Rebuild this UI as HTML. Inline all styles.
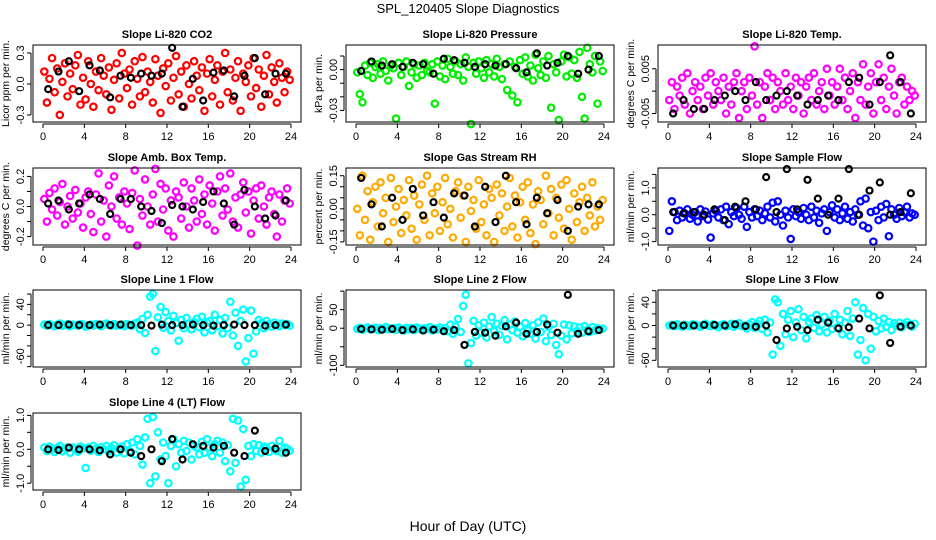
<!DOCTYPE html>
<html><head><meta charset="utf-8"><style>
html,body{margin:0;padding:0;background:#fff;}
svg{display:block;font-family:"Liberation Sans",sans-serif;}
</style></head><body>
<svg id="chart" width="936" height="540" viewBox="0 0 936 540">
<text x="468" y="13" text-anchor="middle" font-size="13">SPL_120405  Slope Diagnostics</text>
<text x="468" y="531" text-anchor="middle" font-size="14">Hour of Day (UTC)</text>
</svg>
<script>
const xTicks=[0,4,8,12,16,20,24];
const xTickLabels=["0","4","8","12","16","20","24"];

const co2Vals=[0.12,-0.18,0.05,0.25,-0.08,0.15,-0.3,0.02,0.2,-0.12,0.1,-0.05,0.18,0.28,-0.2,0.06,-0.15,0.22,0.0,-0.22,0.12,-0.06,0.25,0.08,-0.1,0.16,-0.25,0.04,0.2,-0.14,0.3,0.1,-0.04,0.14,-0.2,0.22,0.05,-0.12,0.26,-0.08,0.12,0.02,-0.18,0.24,0.08,-0.28,0.15,-0.02,0.2,-0.16,0.06,0.27,-0.1,0.12,-0.22,0.18,0.0,-0.14,0.22,0.08,-0.06,0.16,-0.26,0.1,0.24,-0.12,0.04,0.18,-0.2,0.12,0.3,-0.08,0.14,-0.16,0.06,0.22,-0.26,0.1,0.02,0.18,-0.12,0.25,-0.04,0.14,-0.22,0.08,0.28,-0.1,0.16,0.02,-0.18,0.2,0.06,-0.08,0.12,0.04];
const co2Black=[-0.05,0.12,0.22,-0.07,0.18,0.13,-0.13,0.08,0.06,0.1,0.08,0.1,0.35,-0.22,0.05,-0.16,0.11,0.13,-0.12,0.08,0.25,-0.1,0.1,0.1];
const presVals=[-0.002,-0.018,-0.024,0.003,-0.004,0.005,-0.006,0.002,0.004,-0.003,0.006,-0.001,-0.008,0.003,0.001,-0.036,0.005,-0.004,0.002,0.006,-0.012,-0.002,0.004,-0.006,0.003,-0.004,0.005,-0.001,-0.002,0.004,-0.025,0.006,-0.005,0.003,-0.007,0.008,0.002,-0.003,0.006,-0.004,0.004,-0.008,0.009,0.002,-0.04,0.005,-0.003,0.006,0.001,-0.006,0.007,-0.002,0.004,-0.005,0.008,0.002,-0.007,0.004,-0.015,0.006,-0.019,0.002,-0.024,0.007,-0.003,0.009,-0.005,0.003,-0.008,0.011,0.001,-0.004,0.006,-0.006,0.01,-0.028,0.004,-0.002,-0.037,0.006,0.011,-0.005,0.009,-0.003,0.007,-0.006,0.013,-0.02,-0.036,0.016,0.004,-0.002,0.01,-0.025,0.006,-0.001];
const presBlack=[-0.001,0.006,0.003,0.004,0.002,0.005,0.004,-0.003,0.008,0.007,0.005,0.002,0.004,0.003,0.004,0.001,-0.002,0.012,0.003,0.005,0.010,-0.003,0.000,0.010];
const tempVals=[-0.002,0.002,-0.004,0.001,-0.001,0.003,-0.003,0.004,-0.005,0,0.002,-0.002,0.001,-0.004,0.003,-0.001,0.004,-0.003,0.002,0,-0.002,0.003,-0.005,0.001,-0.003,0.002,0.004,-0.006,0,0.002,-0.004,0.003,-0.001,0.01,-0.003,0.002,-0.006,0.001,0.004,-0.002,0.003,-0.004,0.002,0,-0.003,0.004,-0.002,0.001,-0.004,0.003,-0.001,0.002,-0.005,0.001,0.003,-0.002,0.004,-0.003,0,0.002,-0.004,0.005,-0.001,0.002,-0.003,0.001,0.005,-0.002,0.003,-0.004,0,0.004,-0.006,0.002,-0.002,0.006,-0.003,0.001,0.004,-0.005,0.002,0.006,-0.002,0.003,-0.004,0.001,0.005,-0.001,-0.005,0.002,0.003,-0.003,0.001,-0.002,0.0,-0.001];
const tempBlack=[-0.005,-0.002,-0.004,-0.004,-0.002,-0.001,0,-0.002,0.002,-0.002,-0.001,0,-0.001,-0.003,-0.002,-0.001,-0.002,0.002,0.003,-0.003,0.002,0.008,0.002,-0.005];
const ambVals=[0.05,-0.1,0.09,-0.02,0.12,-0.06,0.03,0.15,-0.12,0.0,0.07,-0.08,0.11,-0.04,0.02,-0.14,0.06,0.1,-0.05,-0.17,0.08,0.22,-0.1,0.04,-0.2,0.14,0.0,0.2,-0.08,0.06,-0.12,0.1,0.02,-0.15,0.09,0.24,-0.26,0.05,-0.06,0.18,0.0,-0.12,0.08,0.25,-0.1,0.15,-0.02,0.12,-0.16,0.04,-0.2,0.1,0.06,-0.08,0.16,0.0,-0.14,0.12,0.04,-0.1,0.18,-0.05,0.08,-0.12,0.14,0.02,-0.16,0.1,0.2,-0.06,0.12,-0.02,0.22,-0.1,0.06,-0.14,0.08,0.16,-0.04,0.1,-0.18,0.04,0.12,-0.08,0.14,0.0,-0.12,0.06,0.1,-0.05,-0.2,0.08,-0.1,0.04,0.12,0.02];
const ambBlack=[0.02,0.04,-0.02,0.02,0.08,0.05,-0.05,0.05,0.05,0,-0.03,-0.11,0.01,0.0,-0.02,0.03,0.1,0.02,-0.12,0.11,0.0,-0.08,-0.06,0.04];
const rhVals=[0.0,-0.12,0.15,-0.05,0.08,-0.14,0.03,0.1,-0.08,0.12,-0.02,0.05,-0.15,0.14,-0.06,0.01,0.09,-0.11,0.04,-0.03,0.13,-0.09,0.06,-0.14,0.02,0.11,-0.05,0.15,-0.12,0.07,-0.02,0.1,-0.1,0.03,0.14,-0.07,0.0,-0.13,0.08,0.12,-0.04,0.06,-0.15,0.1,-0.01,0.04,-0.09,0.13,-0.06,0.02,-0.12,0.09,0.05,-0.15,0.11,-0.03,0.07,-0.1,0.01,0.14,-0.08,0.06,-0.13,0.03,0.1,-0.05,0.12,-0.11,0.02,-0.16,0.08,0.04,-0.07,0.15,-0.02,0.09,-0.12,0.05,-0.04,0.11,-0.09,0.13,0.0,-0.14,0.07,-0.06,0.03,0.1,-0.1,0.05,-0.03,0.12,-0.08,0.01,-0.05,0.04];
const rhBlack=[0.14,0.02,-0.08,0.05,-0.05,0.09,-0.03,0.03,-0.04,0.07,0.06,-0.08,0.1,-0.06,0.15,0.03,-0.07,0.05,-0.02,0.04,-0.1,0.01,0.02,0.02];
const sampVals=[-0.6,0.5,0.1,-0.2,0.15,-0.1,0.05,0.2,-0.15,0.0,0.1,-0.25,0.2,-0.05,0.12,-0.18,-0.85,0.05,0.15,-0.1,0.2,-0.2,0.3,-0.35,0.1,-0.05,0.25,0.0,-0.15,0.3,-0.45,0.1,-0.1,0.2,-0.05,0.15,-0.2,0.05,0.3,-0.1,0.45,-0.25,0.5,0.0,-0.4,0.15,-0.1,-0.9,0.2,-0.05,0.1,-0.15,0.25,0.0,-0.2,0.3,-0.1,0.15,-0.3,0.05,0.2,-0.6,0.1,0.35,-0.1,0.2,-0.2,0.05,0.3,-0.15,0.1,-0.25,0.2,0.0,0.5,-0.4,0.6,-0.5,0.1,-1.0,0.15,-0.2,0.3,-0.1,0.4,-0.8,0.2,0.0,-0.15,0.25,-0.05,0.1,0.3,-0.1,0.05,0.0];
const sampBlack=[0.1,0.05,0.1,0.0,0.2,-0.2,0.3,0.5,0.2,1.4,0.1,1.7,0.2,1.3,0.6,0.0,0.6,1.7,0.0,0.9,1.2,0.0,0.1,0.8];
const l1Vals=[1,-1,2,0,-2,1,3,-1,0,2,-2,1,0,-1,2,1,-3,0,1,-1,2,0,-2,1,3,0,-1,2,-1,0,1,-2,2,0,-1,3,5,-8,12,-15,20,55,60,-50,15,35,-5,25,8,-10,18,4,-30,10,-6,14,2,-8,6,12,-4,16,-14,5,8,-10,20,-2,10,-16,14,-6,45,-20,24,-40,8,30,-70,-25,28,-55,-12,10,4,-6,8,2,-3,5,1,-2,3,0,2,-1];
const l1Black=[0,0,1,0,0,1,0,1,0,0,-1,1,0,0,1,0,-1,0,1,0,0,-1,0,1];
const l2Vals=[-2,1,-4,0,2,-3,-1,1,-5,0,-2,3,-3,-1,0,-4,2,-2,-6,1,-3,0,-5,2,-1,-4,0,-2,3,-6,-1,-3,2,-5,0,-8,10,-15,5,25,-10,60,90,-95,-40,20,-20,8,-12,15,-25,5,30,-8,12,-18,6,22,-30,10,-5,18,-12,4,-22,14,-6,-15,8,-28,16,-10,26,-35,4,-18,12,-45,-70,-20,10,-30,8,-14,5,-8,2,-12,6,-4,-10,3,-6,0,-3,-1];
const l2Black=[-2,-3,-4,-2,-5,-3,-6,-4,-8,-5,-45,-10,-12,-20,5,15,-15,-10,10,-12,90,-15,-8,-5];
const l3Vals=[0,1,-1,2,0,-2,1,0,-1,2,1,0,-2,1,3,0,-1,2,0,-3,1,2,-1,0,3,-2,1,4,-1,0,-5,2,6,-4,3,8,-6,10,-12,5,-50,45,40,-35,20,-15,10,25,-20,5,28,-8,15,-22,6,12,-4,18,-10,2,15,-12,8,-6,20,-3,10,-15,5,25,-18,12,40,-50,-25,30,-60,20,-40,15,-10,8,-5,12,-2,6,-8,4,0,5,-3,2,6,1,-2,3];
const l3Black=[0,0,0,1,1,0,2,-1,-2,0,-25,-5,-2,-8,10,5,-5,-3,12,-5,52,-30,-2,0];
const l4Vals=[0.05,-0.05,0.08,0,-0.08,0.04,0.1,-0.06,0.02,0.06,-0.1,0.05,0,-0.07,0.08,0.03,-0.55,0.05,-0.04,0.1,0.02,-0.08,0.06,0,0.1,-0.06,0.04,0.12,-0.1,0.02,0.08,-0.12,0.15,-0.05,0.2,-0.15,0.3,0.1,-0.45,0.35,0.9,-1.0,0.95,-0.8,0.5,-0.3,0.2,-0.2,-1.0,0.1,0.3,-0.5,0.15,-0.1,0.25,-0.05,0.2,-0.3,0.1,0.05,-0.15,0.22,-0.1,0.3,0.05,-0.2,0.15,0.25,-0.1,0.2,-0.35,0.12,-0.65,0.9,-0.4,0.85,-1.1,0.6,-0.9,0.1,-0.2,0.15,-0.05,0.12,-0.1,0.08,0.05,-0.08,0.1,0,-0.05,0.25,-0.1,0.05,0.02,-0.04];
const l4Black=[0,-0.02,0.05,0,0,-0.03,-0.15,0,-0.1,-0.2,0,-0.35,0.3,-0.3,0.15,0.1,0.05,0.1,-0.1,-0.2,0.55,-0.05,0.02,-0.1];

const panels=[
 {id:"co2",title:"Slope Li-820 CO2",ylab:"Licor ppm per min.",col:0,row:0,ymin:-0.368,ymax:0.377,ticks:[-0.3,0,0.3],labs:["-0.3","0.0","0.3"],color:"#ff0000",vals:co2Vals,black:co2Black},
 {id:"pressure",title:"Slope Li-820 Pressure",ylab:"kPa per min.",col:1,row:0,ymin:-0.0385,ymax:0.0181,ticks:[-0.03,-0.02,-0.01,0,0.01],labs:["-0.03","","","0.00",""],color:"#00ee00",vals:presVals,black:presBlack},
 {id:"temp",title:"Slope Li-820 Temp.",ylab:"degrees C per min.",col:2,row:0,ymin:-0.0069,ymax:0.0103,ticks:[-0.005,0,0.005],labs:["-0.005","","0.005"],color:"#ff00ff",vals:tempVals,black:tempBlack},
 {id:"amb-temp",title:"Slope Amb. Box Temp.",ylab:"degrees C per min.",col:0,row:1,ymin:-0.256,ymax:0.256,ticks:[-0.2,-0.1,0,0.1,0.2],labs:["-0.2","","0.0","","0.2"],color:"#ff00ff",vals:ambVals,black:ambBlack},
 {id:"rh",title:"Slope Gas Stream RH",ylab:"percent per min.",col:1,row:1,ymin:-0.164,ymax:0.185,ticks:[-0.15,-0.1,-0.05,0,0.05,0.1,0.15],labs:["-0.15","","","0.00","","","0.15"],color:"#ffaa00",vals:rhVals,black:rhBlack},
 {id:"sample-flow",title:"Slope Sample Flow",ylab:"ml/min per min.",col:2,row:1,ymin:-1.126,ymax:1.739,ticks:[-1,-0.5,0,0.5,1,1.5],labs:["-1.0","","0.0","","1.0",""],color:"#0000ff",vals:sampVals,black:sampBlack},
 {id:"line1",title:"Slope Line 1 Flow",ylab:"ml/min per min.",col:0,row:2,ymin:-80.7,ymax:67.7,ticks:[-80,-60,-40,-20,0,20,40,60],labs:["","-60","","","0","","40",""],color:"#00ffff",vals:l1Vals,black:l1Black},
 {id:"line2",title:"Slope Line 2 Flow",ylab:"ml/min per min.",col:1,row:2,ymin:-104.5,ymax:103,ticks:[-100,-50,0,50,100],labs:["-100","","0","50",""],color:"#00ffff",vals:l2Vals,black:l2Black},
 {id:"line3",title:"Slope Line 3 Flow",ylab:"ml/min per min.",col:2,row:2,ymin:-71.5,ymax:61.2,ticks:[-60,-40,-20,0,20,40,60],labs:["-60","","","0","","40",""],color:"#00ffff",vals:l3Vals,black:l3Black},
 {id:"line4",title:"Slope Line 4 (LT) Flow",ylab:"ml/min per min.",col:0,row:3,ymin:-1.2,ymax:1.07,ticks:[-1,-0.5,0,0.5,1],labs:["-1.0","","0.0","","1.0"],color:"#00ffff",vals:l4Vals,black:l4Black}
];

const NS="http://www.w3.org/2000/svg";
const svg=document.getElementById("chart");
const colX0=[43,356,668], rowTop=[45,168,290,413], BH=77, XW=248;
function mk(tag,attrs,parent){const e=document.createElementNS(NS,tag);for(const k in attrs)e.setAttribute(k,attrs[k]);parent.appendChild(e);return e;}

panels.forEach(p=>{
  const x0=colX0[p.col], top=rowTop[p.row], bot=top+BH, left=x0-10, right=x0+XW+10;
  const xs=h=>x0+h/24*XW;
  const ys=v=>bot-(v-p.ymin)/(p.ymax-p.ymin)*BH;
  const g=mk("g",{},svg);
  
  
  const t=mk("text",{x:(left+right)/2,y:top-7,"text-anchor":"middle","font-size":"11","font-weight":"bold"},g);
  t.textContent=p.title;
  
  
  const pts=mk("g",{fill:"none","stroke-width":"2.2"},g);
  
  
  const n=p.vals.length;
  p.vals.forEach((v,i)=>{
    const c=mk("circle",{cx:xs((i+0.5)*24/n),cy:ys(v),r:3.2,stroke:p.color},pts);
    
    
  });
  const nb=p.black.length;
  p.black.forEach((v,i)=>{
    const c=mk("circle",{cx:xs((i+0.5)*24/nb),cy:ys(v),r:3.0,stroke:"#000"},pts);
    
    
  });
  const b=mk("rect",{x:left,y:top,width:right-left,height:BH,fill:"none",stroke:"#000","stroke-width":"1"},g);
  
  
  const xa=mk("g",{"font-size":"11","text-anchor":"middle"},g);
  
  
  mk("line",{x1:xs(xTicks[0]),x2:xs(xTicks[xTicks.length-1]),y1:bot+2,y2:bot+2,stroke:"#000"},xa);
  xTicks.forEach((h,i)=>{
    mk("line",{x1:xs(h),x2:xs(h),y1:bot+2,y2:bot+6,stroke:"#000"},xa);
    const tl=mk("text",{x:xs(h),y:bot+18},xa);tl.textContent=xTickLabels[i];
    
    
  });
  const ya=mk("g",{"font-size":"11","text-anchor":"middle"},g);
  
  
  const tv=p.ticks.filter(v=>v>=p.ymin&&v<=p.ymax);
  mk("line",{x1:left-2,x2:left-2,y1:ys(tv[0]),y2:ys(tv[tv.length-1]),stroke:"#000"},ya);
  p.ticks.forEach((v,i)=>{
    if(v<p.ymin||v>p.ymax)return;
    mk("line",{x1:left-2,x2:left-6,y1:ys(v),y2:ys(v),stroke:"#000"},ya);
    if(p.labs[i]){
      const tl=mk("text",{x:left-9,y:ys(v),transform:`rotate(-90 ${left-9} ${ys(v)})`},ya);
      tl.textContent=p.labs[i];
      
      
    }
  });
  const yl=mk("text",{x:left-24,y:(top+bot)/2,"font-size":"10.5","text-anchor":"middle",transform:`rotate(-90 ${left-24} ${(top+bot)/2})`},g);
  yl.textContent=p.ylab;
  
  
});
</script>
</body></html>
